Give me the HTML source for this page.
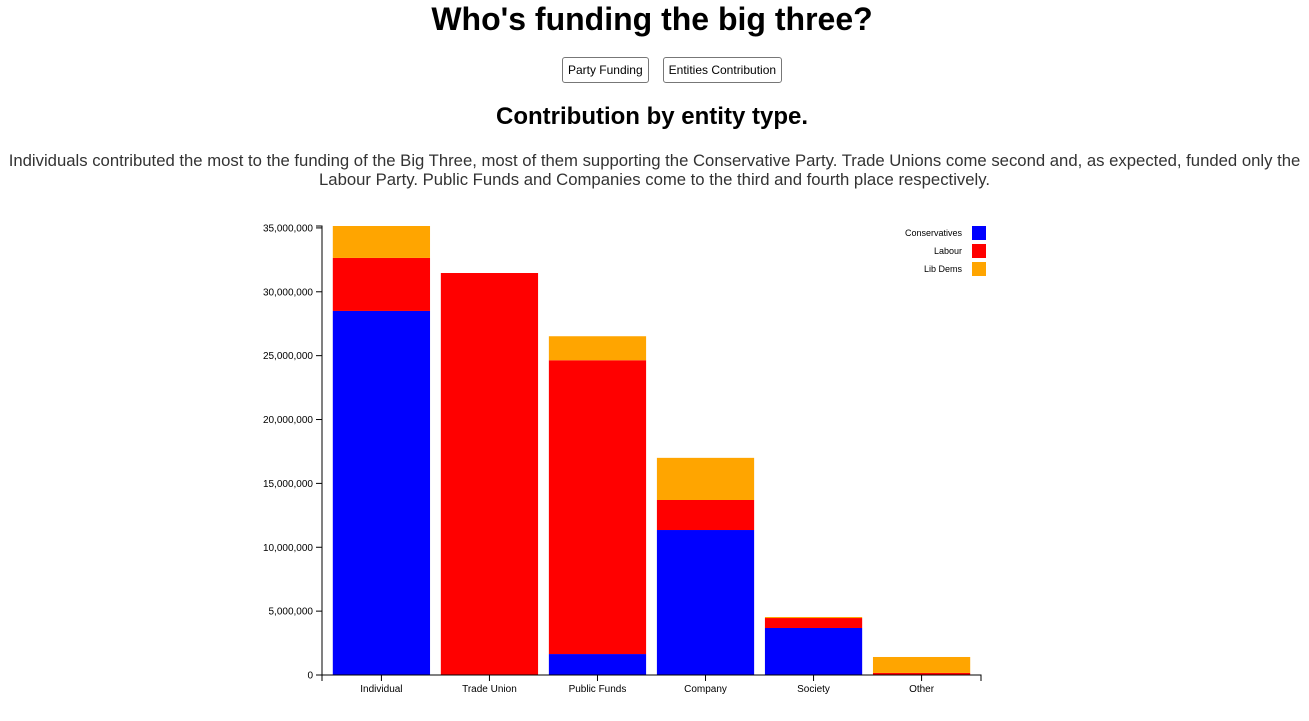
<!DOCTYPE html>
<html><head><meta charset="utf-8">
<style>
body{margin:0;background:#fff;font-family:"Liberation Sans",sans-serif;width:1309px;height:721px;overflow:hidden;position:relative}
h1{position:absolute;top:1px;left:0;width:1304px;text-align:center;margin:0;font-size:32px;line-height:36px;font-weight:bold}
.btns{position:absolute;top:57px;left:20px;width:1304px;text-align:center}
button{font-family:"Liberation Sans",sans-serif;font-size:12px;background:#fff;border:1px solid #777;border-radius:3px;padding:5px 5px;margin:0 7px}
h2{position:absolute;top:103px;left:0;width:1304px;text-align:center;margin:0;font-size:24px;font-weight:bold}
p{position:absolute;top:151px;left:0;width:1309px;text-align:center;margin:0;font-size:16.7px;line-height:19px;color:#333}
svg{position:absolute;left:0;top:0}
</style></head><body>
<h1>Who's funding the big three?</h1>
<div class="btns"><button>Party Funding</button><button>Entities Contribution</button></div>
<h2>Contribution by entity type.</h2>
<p>Individuals contributed the most to the funding of the Big Three, most of them supporting the Conservative Party. Trade Unions come second and, as expected, funded only the Labour Party. Public Funds and Companies come to the third and fourth place respectively.</p>
<svg id="chart" width="1309" height="721"></svg>
<script>
const categories=["Individual","Trade Union","Public Funds","Company","Society","Other"];
const conservatives=[28500000,0,1640000,11350000,3680000,20000];
const labour=[4150000,31470000,23000000,2350000,780000,140000];
const libDems=[2500000,0,1880000,3300000,80000,1250000];
const seriesNames=["Conservatives","Labour","Lib Dems"];
const seriesColors=["#0000ff","#ff0000","#ffa500"];
const yTicks=[0,5000000,10000000,15000000,20000000,25000000,30000000,35000000];
const yMax=35150000;
const NS="http://www.w3.org/2000/svg";
const svg=document.getElementById("chart");
const x0=322,x1=981,y0=675,yTop=226;
const yS=v=>y0-(v/yMax)*(y0-yTop);
const step=(x1-x0)/(categories.length-0.1+0.2);
const xS=i=>x0+0.1*step+i*step;
const bw=step*0.9;
function mk(tag,attrs){const e=document.createElementNS(NS,tag);for(const k in attrs)e.setAttribute(k,attrs[k]);svg.appendChild(e);return e;}
const series=[conservatives,labour,libDems];
categories.forEach((c,i)=>{let base=0;series.forEach((s,j)=>{const v=s[i];if(v>0){const r=mk("rect",{x:xS(i),y:yS(base+v),width:bw,height:yS(base)-yS(base+v),fill:seriesColors[j]});

}base+=v;});});
const ya=mk("path",{d:`M${x0-6},${yTop}H${x0}V${y0}H${x0-6}`,stroke:"#000",fill:"none"});


yTicks.forEach(t=>{const y=yS(t);mk("line",{x1:x0-6,x2:x0,y1:y,y2:y,stroke:"#000"});
const tx=mk("text",{x:x0-9,y:y+3.5,"text-anchor":"end","font-size":"10","font-family":"Liberation Sans, sans-serif"});tx.textContent=t.toLocaleString("en-US");

});
const xa=mk("path",{d:`M${x0},${y0+6}V${y0}H${x1}V${y0+6}`,stroke:"#000",fill:"none"});


categories.forEach((c,i)=>{const cx=xS(i)+bw/2;mk("line",{x1:cx,x2:cx,y1:y0,y2:y0+6,stroke:"#000"});
const tx=mk("text",{x:cx,y:y0+17,"text-anchor":"middle","font-size":"10","font-family":"Liberation Sans, sans-serif"});tx.textContent=c;

});
seriesNames.forEach((n,j)=>{const y=226+j*18;const r=mk("rect",{x:972,y:y,width:14,height:14,fill:seriesColors[j]});


const t=mk("text",{x:962,y:y+10,"text-anchor":"end","font-size":"9","font-family":"Liberation Sans, sans-serif"});t.textContent=n;

});
</script>
</body></html>
